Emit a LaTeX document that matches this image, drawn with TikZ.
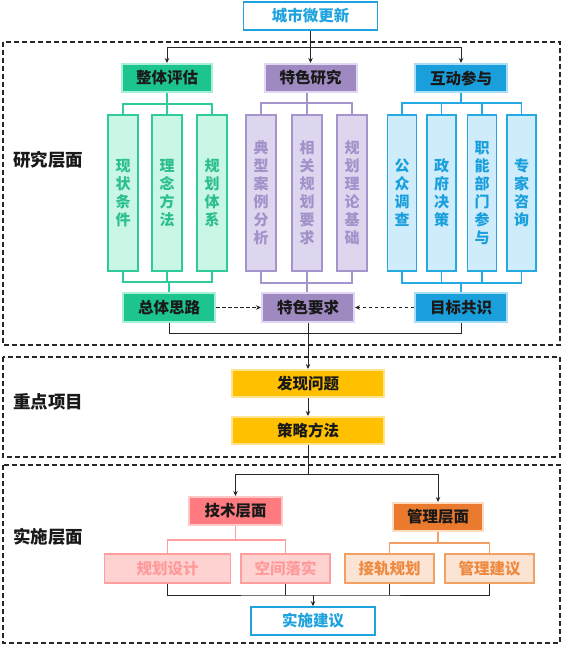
\documentclass[tikz,border=0pt]{standalone}
\usepackage{fontspec}
\setmainfont{Noto Sans CJK SC}
\usetikzlibrary{arrows.meta}
\definecolor{topblue}{HTML}{1FA3DE}
\definecolor{gHead}{HTML}{1CC48F}
\definecolor{gHeadB}{HTML}{A9EFD7}
\definecolor{pHead}{HTML}{9E89C1}
\definecolor{pHeadB}{HTML}{E2D7F3}
\definecolor{bHead}{HTML}{1A9FDD}
\definecolor{bHeadB}{HTML}{A9DEF6}
\definecolor{gSub}{HTML}{CAF6E6}
\definecolor{gSubB}{HTML}{30CB9B}
\definecolor{gTxt}{HTML}{2CBF8E}
\definecolor{pSub}{HTML}{DDD6EE}
\definecolor{pSubB}{HTML}{A694CC}
\definecolor{pTxt}{HTML}{A292C9}
\definecolor{bSub}{HTML}{CEECFA}
\definecolor{bSubB}{HTML}{25A9E2}
\definecolor{bTxt}{HTML}{1A9FDD}
\definecolor{yel}{HTML}{FFC000}
\definecolor{yelB}{HTML}{FFE38F}
\definecolor{salm}{HTML}{FF7B7F}
\definecolor{salmB}{HTML}{FFC8C8}
\definecolor{oran}{HTML}{EA7A2E}
\definecolor{oranB}{HTML}{FCDDC2}
\definecolor{pkSub}{HTML}{FFD2D2}
\definecolor{pkSubB}{HTML}{FF9E9E}
\definecolor{pkTxt}{HTML}{FF9A9A}
\definecolor{orSub}{HTML}{FCE4D4}
\definecolor{orSubB}{HTML}{F3A064}
\definecolor{orTxt}{HTML}{EE8A40}
\tikzset{
  base/.style={rectangle, inner sep=0pt, align=center, font=\fontsize{15.5}{18}\selectfont\bfseries},
  outlinebox/.style={base, draw=topblue, line width=1.6pt, fill=white, text=topblue},
  head/.style={base, line width=2pt, text=black!90, minimum height=28pt},
  vsub/.style={base, line width=1.3pt, minimum height=156pt, font=\fontsize{15}{18}\selectfont\bfseries},
  hsub/.style={base, line width=1.3pt, minimum height=29pt},
  layer/.style={draw=black!85, line width=1.2pt, dash pattern=on 5pt off 3pt},
  lbl/.style={font=\fontsize{17.5}{20}\selectfont\bfseries, text=black!90, anchor=west, inner sep=0pt},
  conn/.style={draw=black!85, line width=1pt},
  arr/.style={conn, -{Stealth[length=5pt,width=4.5pt]}},
  darr/.style={arr, dash pattern=on 3.5pt off 2.5pt},
}
\begin{document}
\begin{tikzpicture}[x=1pt,y=-1pt]
\useasboundingbox (0,0) rectangle (563,646);
% layer frames
\draw[layer] (3,42) rectangle (560,345);
\draw[layer] (3,357) rectangle (560,457);
\draw[layer] (3,465) rectangle (560,643);
\node[lbl] (l1) at (13,160) {研究层面};
\node[lbl] (l2) at (13,402) {重点项目};
\node[lbl] (l3) at (13,537) {实施层面};

% top
\node[outlinebox, minimum width=134pt, minimum height=28pt] (top) at (310.5,16) {城市微更新};

% headers
\node[head, fill=gHead, draw=gHeadB, minimum width=90pt] (h1) at (167,78) {整体评估};
\node[head, fill=pHead, draw=pHeadB, minimum width=92pt] (h2) at (310.5,78) {特色研究};
\node[head, fill=bHead, draw=bHeadB, minimum width=92pt] (h3) at (461,78) {互动参与};

\coordinate (t0) at (310.5,47);
\draw[conn] (top.south) -- (t0);
\draw[arr] (t0) -- (h2.north);
\draw[arr] (t0) -| (h1.north);
\draw[arr] (t0) -| (h3.north);

% green subs
\node[vsub, fill=gSub, draw=gSubB, text=gTxt, minimum width=30pt] (g1) at (123,193) {现\\状\\条\\件};
\node[vsub, fill=gSub, draw=gSubB, text=gTxt, minimum width=30pt] (g2) at (167,193) {理\\念\\方\\法};
\node[vsub, fill=gSub, draw=gSubB, text=gTxt, minimum width=30pt] (g3) at (212,193) {规\\划\\体\\系};
% purple subs
\node[vsub, fill=pSub, draw=pSubB, text=pTxt, minimum width=30pt] (p1) at (261,193) {典\\型\\案\\例\\分\\析};
\node[vsub, fill=pSub, draw=pSubB, text=pTxt, minimum width=30pt] (p2) at (307,193) {相\\关\\规\\划\\要\\求};
\node[vsub, fill=pSub, draw=pSubB, text=pTxt, minimum width=30pt] (p3) at (352,193) {规\\划\\理\\论\\基\\础};
% blue subs
\node[vsub, fill=bSub, draw=bSubB, text=bTxt, minimum width=29pt] (b1) at (402,193) {公\\众\\调\\查};
\node[vsub, fill=bSub, draw=bSubB, text=bTxt, minimum width=29pt] (b2) at (441.5,193) {政\\府\\决\\策};
\node[vsub, fill=bSub, draw=bSubB, text=bTxt, minimum width=29pt] (b3) at (482,193) {职\\能\\部\\门\\参\\与};
\node[vsub, fill=bSub, draw=bSubB, text=bTxt, minimum width=29pt] (b4) at (521.5,193) {专\\家\\咨\\询};

% bottom row of research layer
\node[head, fill=gHead, draw=gHeadB, minimum width=92pt, minimum height=29pt] (r1) at (169,307.5) {总体思路};
\node[head, fill=pHead, draw=pHeadB, minimum width=92pt, minimum height=29pt] (r2) at (308,307.5) {特色要求};
\node[head, fill=bHead, draw=bHeadB, minimum width=92pt, minimum height=29pt] (r3) at (461,307.5) {目标共识};

% green connectors
\begin{scope}[line width=1.1pt]
\coordinate (gt) at (167,104);
\coordinate (gb) at (169,282);
\draw[gSubB] (h1.south) -- (gt);
\draw[gSubB] (g1.north) |- (gt) -| (g3.north);
\draw[gSubB] (gt) -- (g2.north);
\draw[gSubB] (g1.south) |- (gb) -| (g3.south);
\draw[gSubB] (g2.south) -- (g2.south |- gb);
\draw[gSubB] (gb) -- (r1.north);
\end{scope}
% purple connectors
\begin{scope}[line width=1.1pt]
\coordinate (pt) at (307,103);
\coordinate (pb) at (307,283);
\draw[pSubB] (pt |- h2.south) -- (pt);
\draw[pSubB] (p1.north) |- (pt) -| (p3.north);
\draw[pSubB] (pt) -- (p2.north);
\draw[pSubB] (p1.south) |- (pb) -| (p3.south);
\draw[pSubB] (p2.south) -- (pb);
\draw[pSubB] (pb) -- (pb |- r2.north);
\end{scope}
% blue connectors
\begin{scope}[line width=1.1pt]
\coordinate (bt) at (461,103);
\coordinate (bb) at (461,283);
\draw[bSubB] (h3.south) -- (bt);
\draw[bSubB] (b1.north) |- (bt) -| (b4.north);
\draw[bSubB] (b2.north) -- (b2.north |- bt);
\draw[bSubB] (b3.north) -- (b3.north |- bt);
\draw[bSubB] (b1.south) |- (bb) -| (b4.south);
\draw[bSubB] (b2.south) -- (b2.south |- bb);
\draw[bSubB] (b3.south) -- (b3.south |- bb);
\draw[bSubB] (bb) -- (r3.north);
\end{scope}

% dashed arrows
\draw[darr] (r1.east) -- (r2.west);
\draw[darr] (r3.west) -- (r2.east);

% key projects
\node[head, fill=yel, draw=yelB, minimum width=152pt, minimum height=27pt] (k1) at (308,383.5) {发现问题};
\node[head, fill=yel, draw=yelB, minimum width=152pt, minimum height=27pt] (k2) at (308,430.5) {策略方法};
\coordinate (m2) at (461,333);
\draw[conn] (r1.south) |- (m2) -- (r3.south);
\draw[arr] (r2.south) -- (k1.north);
\draw[arr] (k1.south) -- (k2.north);

% implementation
\node[head, fill=salm, draw=salmB, minimum width=93pt, minimum height=28pt] (i1) at (235.5,511) {技术层面};
\node[head, fill=oran, draw=oranB, minimum width=90pt, minimum height=28pt] (i2) at (438,517) {管理层面};
\coordinate (s0) at (308,474);
\draw[conn] (k2.south) -- (s0);
\draw[arr] (s0) -| (i1.north);
\draw[arr] (s0) -| (i2.north);

\node[hsub, fill=pkSub, draw=pkSubB, text=pkTxt, minimum width=126pt] (c1) at (167.5,568.5) {规划设计};
\node[hsub, fill=pkSub, draw=pkSubB, text=pkTxt, minimum width=89pt] (c2) at (285.5,568.5) {空间落实};
\node[hsub, fill=orSub, draw=orSubB, text=orTxt, minimum width=89pt] (c3) at (389.5,568.5) {接轨规划};
\node[hsub, fill=orSub, draw=orSubB, text=orTxt, minimum width=89pt] (c4) at (489.5,568.5) {管理建议};

\coordinate (u1) at (235.5,540);
\coordinate (u2) at (438,543);
\draw[pkSubB, line width=1.1pt] (i1.south) -- (u1);
\draw[pkSubB, line width=1.1pt] (c1.north) |- (u1) -| (c2.north);
\draw[orSubB, line width=1.1pt] (i2.south) -- (u2);
\draw[orSubB, line width=1.1pt] (c3.north) |- (u2) -| (c4.north);

\node[outlinebox, minimum width=124pt, minimum height=28pt] (fin) at (313,621) {实施建议};
\coordinate (v0) at (313,595);
\draw[conn] (c1.south) |- (v0) -| (c4.south);
\draw[conn] (c2.south) -- (c2.south |- v0);
\draw[conn] (c3.south) -- (c3.south |- v0);
\draw[arr] (v0) -- (fin.north);
\end{tikzpicture}
\end{document}
